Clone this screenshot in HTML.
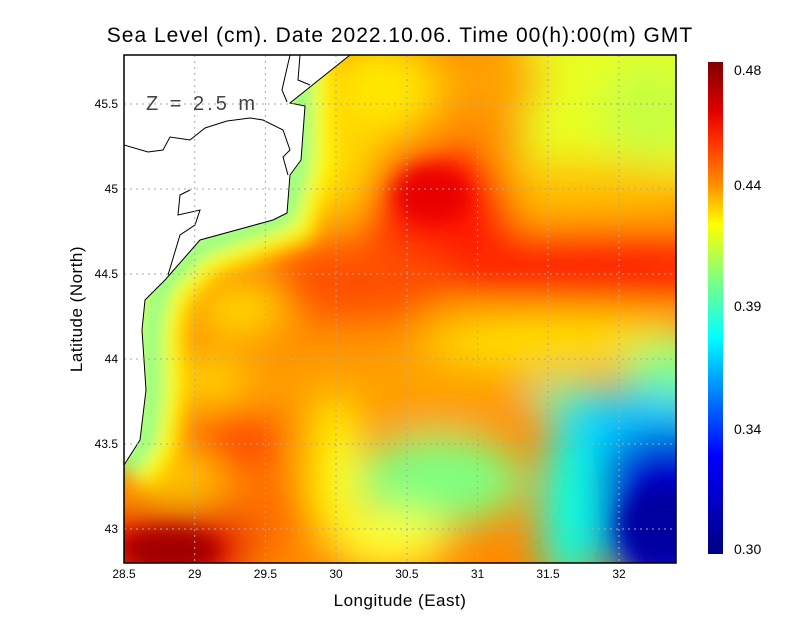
<!DOCTYPE html>
<html><head><style>
body{margin:0;background:#fff;}
svg{display:block;font-family:"Liberation Sans",sans-serif;}
</style></head><body>
<svg width="800" height="618" viewBox="0 0 800 618" xmlns="http://www.w3.org/2000/svg">
<defs>
<clipPath id="pc"><rect x="124" y="55" width="552" height="508"/></clipPath>
<filter id="b1" x="-50%" y="-50%" width="200%" height="200%"><feGaussianBlur stdDeviation="20"/></filter>
<filter id="b2" x="-50%" y="-50%" width="200%" height="200%"><feGaussianBlur stdDeviation="10"/></filter>
<linearGradient id="cb" x1="0" y1="0" x2="0" y2="1">
<stop offset="0" stop-color="#7f0000"/>
<stop offset="0.1" stop-color="#e00000"/>
<stop offset="0.16" stop-color="#ff3000"/>
<stop offset="0.25" stop-color="#ff9000"/>
<stop offset="0.33" stop-color="#ffff00"/>
<stop offset="0.44" stop-color="#80ff80"/>
<stop offset="0.56" stop-color="#00ffff"/>
<stop offset="0.66" stop-color="#0090ff"/>
<stop offset="0.8" stop-color="#0000ff"/>
<stop offset="1" stop-color="#000080"/>
</linearGradient>
</defs>
<g clip-path="url(#pc)">
<rect x="100" y="40" width="600" height="540" fill="#ff8a00"/>
<g filter="url(#b1)">
<rect x="520" y="20" width="200" height="160" fill="#e8ff20"/>
<ellipse cx="650" cy="110" rx="50" ry="50" fill="#c8ff40"/>
<ellipse cx="380" cy="90" rx="60" ry="50" fill="#ffe800"/>
<ellipse cx="490" cy="80" rx="55" ry="35" fill="#ffa000"/>
<ellipse cx="560" cy="190" rx="150" ry="30" fill="#ffc000"/>
<ellipse cx="340" cy="160" rx="40" ry="60" fill="#ffd800"/>
<ellipse cx="440" cy="205" rx="75" ry="55" fill="#ff1800"/>
<ellipse cx="580" cy="268" rx="150" ry="38" fill="#ff2800"/>
<ellipse cx="360" cy="280" rx="90" ry="40" fill="#ff5000"/>
<ellipse cx="400" cy="385" rx="150" ry="40" fill="#ffa000"/>
<ellipse cx="560" cy="340" rx="140" ry="28" fill="#ffe000"/>
<ellipse cx="680" cy="370" rx="60" ry="30" fill="#80ff80"/>
<ellipse cx="570" cy="400" rx="40" ry="20" fill="#60ffa0"/>
<ellipse cx="640" cy="440" rx="90" ry="50" fill="#00c8ff"/>
<ellipse cx="670" cy="510" rx="80" ry="80" fill="#0000d0"/>
<ellipse cx="570" cy="510" rx="30" ry="80" fill="#10ffe0"/>
<ellipse cx="440" cy="480" rx="85" ry="45" fill="#80ff80"/>
<ellipse cx="390" cy="540" rx="60" ry="30" fill="#ffff30"/>
<ellipse cx="335" cy="470" rx="25" ry="70" fill="#ffff00"/>
<ellipse cx="240" cy="440" rx="45" ry="30" fill="#ff4800"/>
<ellipse cx="270" cy="515" rx="40" ry="40" fill="#ff7000"/>
<ellipse cx="175" cy="545" rx="80" ry="40" fill="#e00000"/>
<ellipse cx="210" cy="380" rx="40" ry="25" fill="#ffd800"/>
<ellipse cx="240" cy="310" rx="45" ry="25" fill="#ffe000"/>
<ellipse cx="180" cy="480" rx="40" ry="25" fill="#ffd000"/>
</g>
<g filter="url(#b2)">
<path d="M300,55 L300,160 L285,215 L200,245 L160,285 L150,330 L152,390 L145,440 L124,470" fill="none" stroke="#ffff00" stroke-width="65"/>
<path d="M300,55 L300,160 L285,215 L200,245 L160,285 L150,330 L152,390 L145,440 L124,470" fill="none" stroke="#70ff90" stroke-width="22"/>
<ellipse cx="432" cy="195" rx="38" ry="28" fill="#e80000"/>
<ellipse cx="170" cy="550" rx="50" ry="22" fill="#a00000"/>
<ellipse cx="660" cy="525" rx="40" ry="40" fill="#0000a0"/>
</g>
<path d="M124,55 L350,55 L290,103 L305,106 L301,160 L290,175 L287,213 L273,220 L200,240 L165,280 L145,300 L142,330 L146,390 L140,440 L124,465 Z" fill="#fff"/>
<path d="M350,55 L290,103 L305,106 L301,160 L290,175 L287,213 L273,220 L200,240 L165,280 L145,300 L142,330 L146,390 L140,440 L124,465" fill="none" stroke="#000" stroke-width="1"/>
<path d="M124,145 L148,152 L163,150 L170,137 L190,140 L205,128 L227,121 L250,118 L263,120 L283,130 L290,150 L283,157 L288,175" fill="none" stroke="#000" stroke-width="1"/>
<path d="M290,55 L282,90 L287,102 M300,55 L298,80 L310,85 M190,190 L180,195 L178,215 L200,210 L195,225 L180,235 L168,275" fill="none" stroke="#000" stroke-width="1"/>
<g stroke="#aaa" stroke-width="1" stroke-dasharray="2,4">
<line x1="194.7" y1="55" x2="194.7" y2="563"/><line x1="265.4" y1="55" x2="265.4" y2="563"/><line x1="336" y1="55" x2="336" y2="563"/><line x1="406.9" y1="55" x2="406.9" y2="563"/><line x1="477.6" y1="55" x2="477.6" y2="563"/><line x1="548" y1="55" x2="548" y2="563"/><line x1="619" y1="55" x2="619" y2="563"/>
<line x1="124" y1="529" x2="676" y2="529"/><line x1="124" y1="444" x2="676" y2="444"/><line x1="124" y1="359" x2="676" y2="359"/><line x1="124" y1="274" x2="676" y2="274"/><line x1="124" y1="189" x2="676" y2="189"/><line x1="124" y1="104" x2="676" y2="104"/>
</g>
<text x="146" y="110" font-size="20" fill="#444" letter-spacing="3">Z = 2.5 m</text>
</g>
<rect x="124" y="55" width="552" height="508" fill="none" stroke="#000" stroke-width="1.5"/>
<g font-size="12" fill="#000" text-anchor="middle">
<text x="124" y="578">28.5</text><text x="194.7" y="578">29</text><text x="265.4" y="578">29.5</text><text x="336" y="578">30</text><text x="406.9" y="578">30.5</text><text x="477.6" y="578">31</text><text x="548" y="578">31.5</text><text x="619" y="578">32</text>
</g>
<g font-size="12" fill="#000" text-anchor="end">
<text x="118" y="533">43</text><text x="118" y="448">43.5</text><text x="118" y="363">44</text><text x="118" y="278">44.5</text><text x="118" y="193">45</text><text x="118" y="108">45.5</text>
</g>
<text x="400" y="42" font-size="21" text-anchor="middle" fill="#000" letter-spacing="1">Sea Level (cm). Date 2022.10.06. Time 00(h):00(m) GMT</text>
<text x="400" y="606" font-size="17" text-anchor="middle" fill="#000" letter-spacing="0.5">Longitude (East)</text>
<text x="82" y="309" font-size="17" text-anchor="middle" fill="#000" transform="rotate(-90 82 309)" letter-spacing="0.5">Latitude (North)</text>
<rect x="708" y="62" width="15" height="492" fill="url(#cb)"/>
<g font-size="14" fill="#000">
<text x="734" y="75">0.48</text><text x="734" y="190">0.44</text><text x="734" y="311">0.39</text><text x="734" y="434">0.34</text><text x="734" y="554">0.30</text>
</g>
</svg>
</body></html>
